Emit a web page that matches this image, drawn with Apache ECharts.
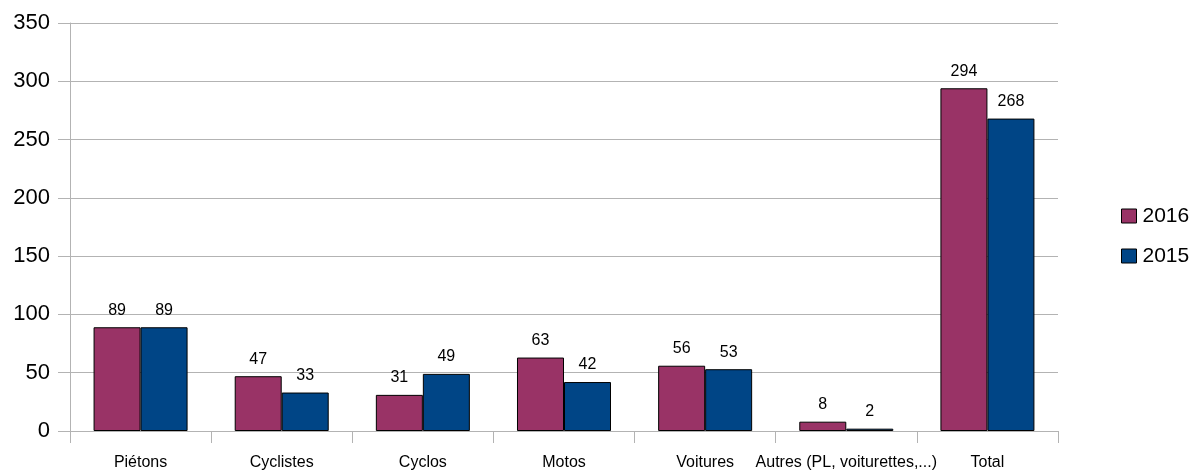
<!DOCTYPE html>
<html>
<head>
<meta charset="utf-8">
<script src="https://cdn.jsdelivr.net/npm/echarts@6/dist/echarts.min.js"></script>
<style>
  html, body { margin: 0; padding: 0; background: #fff; }
  #chart { width: 1194px; height: 472px; }
</style>
</head>
<body>
<div id="chart"></div>
<script>
// Victims by road-user category, 2016 vs 2015
const categories = ['Piétons', 'Cyclistes', 'Cyclos', 'Motos', 'Voitures', 'Autres (PL, voiturettes,...)', 'Total'];
const values2016 = [89, 47, 31, 63, 56, 8, 294];
const values2015 = [89, 33, 49, 42, 53, 2, 268];
const yTicks = [0, 50, 100, 150, 200, 250, 300, 350];

const font = 'Liberation Sans, Arial, sans-serif';

function barSeries(name, data, color) {
  return {
    name: name,
    type: 'bar',
    data: data,
    barGap: '0%',
    barCategoryGap: '33.4%',
    itemStyle: { color: color, borderColor: '#000', borderWidth: 1 },
    label: {
      show: true,
      position: 'top',
      distance: 9,
      color: '#000',
      fontFamily: font,
      fontSize: 16
    }
  };
}

const chart = echarts.init(document.getElementById('chart'), null, { renderer: 'canvas' });
chart.setOption({
  animation: false,
  backgroundColor: '#fff',
  grid: { left: 70, right: 136, top: 23, bottom: 41, containLabel: false },
  legend: {
    orient: 'vertical',
    left: 1116,
    top: 'middle',
    itemWidth: 15,
    itemHeight: 14,
    itemGap: 19,
    icon: 'rect',
    data: ['2016', '2015'],
    textStyle: { fontFamily: font, fontSize: 21, color: '#000', padding: [0, 0, 0, 1] },
    itemStyle: { borderColor: '#000', borderWidth: 1 }
  },
  xAxis: {
    type: 'category',
    data: categories,
    axisLine: { show: true, lineStyle: { color: '#b3b3b3', width: 1 } },
    axisTick: { show: true, length: 12, alignWithLabel: false, lineStyle: { color: '#b3b3b3' } },
    axisLabel: { interval: 0, margin: 24, color: '#000', fontFamily: font, fontSize: 16 }
  },
  yAxis: {
    type: 'value',
    min: yTicks[0],
    max: yTicks[yTicks.length - 1],
    interval: 50,
    axisLine: { show: true, lineStyle: { color: '#b3b3b3', width: 1 } },
    axisTick: { show: true, length: 12, lineStyle: { color: '#b3b3b3' } },
    splitLine: { show: true, lineStyle: { color: '#b3b3b3', width: 1 } },
    axisLabel: { margin: 20, color: '#000', fontFamily: font, fontSize: 22 }
  },
  series: [
    barSeries('2016', values2016, '#993366'),
    barSeries('2015', values2015, '#004586')
  ]
});
</script>
</body>
</html>
